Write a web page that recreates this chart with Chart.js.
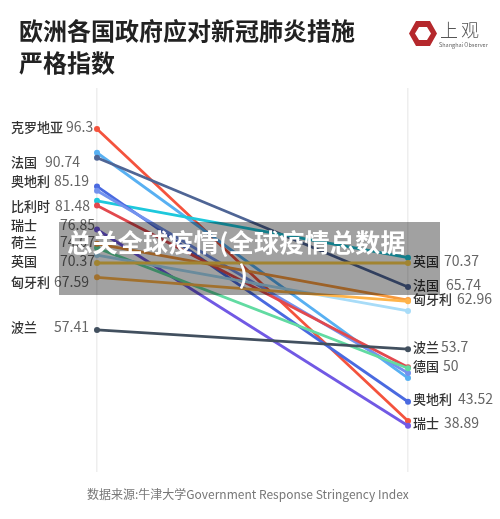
<!DOCTYPE html>
<html lang="zh">
<head>
<meta charset="utf-8">
<title>欧洲各国政府应对新冠肺炎措施严格指数</title>
<script src="https://cdn.jsdelivr.net/npm/chart.js@4"></script>
<style>
	html, body { margin: 0; padding: 0; background: #fff; }
	body { position: relative; width: 500px; height: 519px; overflow: hidden; font-family: "Noto Sans CJK SC", "Noto Sans", sans-serif; }
	#chart { position: absolute; left: 0; top: 0; }
	#title { position: absolute; left: 19px; top: 14px; font-size: 24px; line-height: 32px; font-weight: 700; color: #222; }
	#logo { position: absolute; left: 408px; top: 20px; }
	#logo-cn { position: absolute; left: 440px; top: 15px; font-size: 18px; line-height: 28px; letter-spacing: 3px; font-weight: 300; color: #555; }
	#logo-en { position: absolute; left: 439px; top: 41px; font-size: 5.5px; line-height: 8px; color: #666; white-space: nowrap; }
	#source { position: absolute; left: 87px; top: 485px; font-size: 12px; line-height: 18px; color: #777; white-space: nowrap; }
	#overlay { position: absolute; left: 59px; top: 222px; width: 381px; height: 73px; background: rgba(0, 0, 0, 0.37); }
	#overlay-text { position: absolute; left: -6px; top: 3px; width: 100%; text-align: center; font-size: 25px; letter-spacing: 0.3px; line-height: 32px; font-weight: 700; color: #fff; }
	#overlay-text span { position: relative; left: -7px; }
</style>
</head>
<body>
<canvas id="chart" width="500" height="519"></canvas>
<div id="title">欧洲各国政府应对新冠肺炎措施<br>严格指数</div>
<svg id="logo" width="30" height="27" viewBox="0 0 30 27">
	<polygon fill-rule="evenodd" fill="#b5282c" points="8,1 22,1 29,13.5 22,26 8,26 1,13.5 8,1 11,7 19,7 23,13.5 19,20 11,20 7,13.5 11,7"/>
</svg>
<div id="logo-cn">上观</div>
<div id="logo-en">Shanghai Observer</div>
<div id="source">数据来源:牛津大学Government Response Stringency Index</div>
<div id="overlay"><div id="overlay-text"><span>总关全球疫情(全球疫情总数据</span><br>)</div></div>
<script>
const categories = ['start', 'end'];

const croatia = [96.3, 39.8];
const lightBlue = [91.7, 48.1];
const france = [90.74, 65.74];
const austria = [85.19, 43.52];
const periwinkle = [84.36, 49.1];
const cyan = [82.4, 71.4];
const belgium = [81.48, 50.2];
const switzerland = [76.85, 38.89];
const netherlands = [74.07, 63.2];
const green = [73.3, 50];
const steel = [71.9, 61.1];
const uk = [70.37, 70.37];
const hungary = [67.59, 62.96];
const poland = [57.41, 53.7];

const leftNames = ['克罗地亚', '法国', '奥地利', '比利时', '瑞士', '荷兰', '英国', '匈牙利', '波兰'];
const leftValues = ['96.3', '90.74', '85.19', '81.48', '76.85', '74.07', '70.37', '67.59', '57.41'];
const rightNames = ['英国', '法国', '匈牙利', '波兰', '德国', '奥地利', '瑞士'];
const rightValues = ['70.37', '65.74', '62.96', '53.7', '50', '43.52', '38.89'];

// label layout, the labels are pushed apart by hand in the original
const leftLabelY = [127, 162, 181, 206, 225, 242, 261, 282, 327];
const leftValueX = [66, 45, 54, 55, 60, 60, 60, 54, 54];
const rightLabelY = [261, 285, 299, 347, 366, 399, 423];
const rightValueX = [444, 446, 457, 441, 443, 458, 444];

const makeSeries = (label, data, color) => ({
	label: label,
	data: data,
	borderColor: color,
	backgroundColor: color,
	borderWidth: 2.8,
	pointRadius: 3,
	pointBorderWidth: 0,
	pointHoverRadius: 3,
	tension: 0
});

const drawLabels = {
	id: 'drawLabels',
	afterDatasetsDraw(chart) {
		const ctx = chart.ctx;
		const put = (names, values, ys, valueXs, nameX) => {
			names.forEach((name, i) => {
				ctx.font = '500 13px "Noto Sans CJK SC"';
				ctx.fillStyle = '#333';
				ctx.fillText(name, nameX, ys[i]);
				ctx.font = '14px "Noto Sans CJK SC"';
				ctx.fillStyle = '#666';
				ctx.fillText(values[i], valueXs[i], ys[i]);
			});
		};
		ctx.save();
		ctx.textAlign = 'left';
		ctx.textBaseline = 'middle';
		put(leftNames, leftValues, leftLabelY, leftValueX, 11);
		put(rightNames, rightValues, rightLabelY, rightValueX, 413);
		ctx.restore();
	}
};

new Chart(document.getElementById('chart'), {
	type: 'line',
	data: {
		labels: categories,
		datasets: [
			makeSeries('波兰', poland, '#42505f'),
			makeSeries('英国', uk, '#ffd24e'),
			makeSeries('匈牙利', hungary, '#ffb44a'),
			makeSeries('荷兰', netherlands, '#f79a3e'),
			makeSeries('灰蓝', steel, '#a8dcf8'),
			makeSeries('绿', green, '#62dba2'),
			makeSeries('比利时', belgium, '#e2494e'),
			makeSeries('蓝紫', periwinkle, '#7392ee'),
			makeSeries('瑞士', switzerland, '#7159e4'),
			makeSeries('奥地利', austria, '#4a6ae0'),
			makeSeries('青', cyan, '#1ec8dc'),
			makeSeries('法国', france, '#4f6595'),
			makeSeries('浅蓝', lightBlue, '#58b0f2'),
			makeSeries('克罗地亚', croatia, '#f4533d')
		]
	},
	options: {
		responsive: false,
		animation: false,
		events: [],
		layout: {
			padding: { left: 97, right: 92, top: 88, bottom: 47 }
		},
		plugins: {
			legend: { display: false },
			title: { display: false },
			tooltip: { enabled: false }
		},
		scales: {
			x: {
				offset: false,
				border: { display: false },
				grid: { color: '#eeeeee', lineWidth: 1.5, drawTicks: false },
				ticks: { display: false }
			},
			y: {
				display: false,
				min: 29.93,
				max: 104.23
			}
		}
	},
	plugins: [drawLabels]
});
</script>
</body>
</html>
